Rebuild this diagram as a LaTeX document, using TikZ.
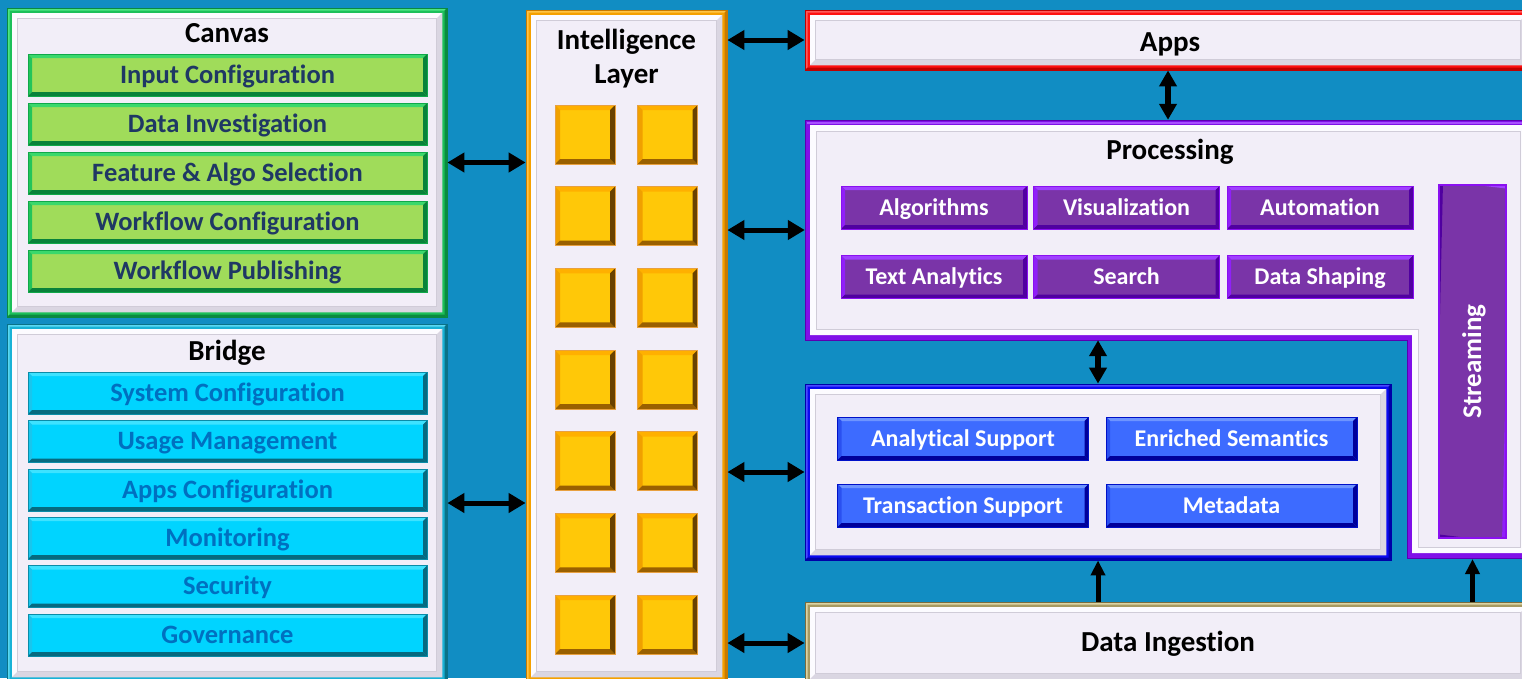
\documentclass[tikz,border=0pt]{standalone}
\usepackage{fontspec}
\setmainfont{Carlito}[Ligatures=NoCommon]
\usetikzlibrary{arrows.meta}

% page and panels
\definecolor{bg}{HTML}{118DC3}
\definecolor{panel}{HTML}{F2EEF8}
\definecolor{panelhi}{HTML}{FCFBFF}
\definecolor{panelsh}{HTML}{DAD6E2}
\definecolor{panelln}{HTML}{D0CCD8}
% canvas (green)
\definecolor{grnband}{HTML}{1CC05A}
\definecolor{grnbandhi}{HTML}{4EE684}
\definecolor{grnbanddk}{HTML}{0A8A40}
\definecolor{grnfill}{HTML}{A0DC5A}
\definecolor{grnrim}{HTML}{10A84A}
\definecolor{grnhi}{HTML}{3AD86C}
\definecolor{grnlt}{HTML}{22C45A}
\definecolor{grndk}{HTML}{08823A}
\definecolor{grntext}{HTML}{1F3864}
% bridge (cyan)
\definecolor{brband}{HTML}{18B2D6}
\definecolor{brbandhi}{HTML}{5AD8F2}
\definecolor{brbanddk}{HTML}{0A7288}
\definecolor{cyfill}{HTML}{00D4FF}
\definecolor{cyrim}{HTML}{0A8CA8}
\definecolor{cyhi}{HTML}{3EE2FF}
\definecolor{cylt}{HTML}{18C6EE}
\definecolor{cydk}{HTML}{066A80}
\definecolor{cytext}{HTML}{0070C0}
% intelligence layer (orange / gold)
\definecolor{orband}{HTML}{F5A000}
\definecolor{orbandhi}{HTML}{FFC446}
\definecolor{orbanddk}{HTML}{C87A00}
\definecolor{sqfill}{HTML}{FFC808}
\definecolor{sqedge}{HTML}{E8A040}
\definecolor{sqtop}{HTML}{FFB000}
\definecolor{sqleft}{HTML}{F0A000}
\definecolor{sqbot}{HTML}{9A6000}
\definecolor{sqright}{HTML}{6A4200}
% apps (red)
\definecolor{rdband}{HTML}{FF1010}
\definecolor{rdbandhi}{HTML}{FF5A5A}
\definecolor{rdbanddk}{HTML}{C00000}
% processing (violet)
\definecolor{vioband}{HTML}{8010E8}
\definecolor{viobandhi}{HTML}{A850FF}
\definecolor{viobanddk}{HTML}{5A00B0}
\definecolor{pufill}{HTML}{7A34A8}
\definecolor{purim}{HTML}{8A10F0}
\definecolor{puhi}{HTML}{A040FF}
\definecolor{pult}{HTML}{9020F8}
\definecolor{pudk}{HTML}{5000A0}
% storage (blue)
\definecolor{blband}{HTML}{0A0AF0}
\definecolor{blbandhi}{HTML}{4A4AFF}
\definecolor{blbanddk}{HTML}{0000A8}
\definecolor{blfill}{HTML}{3D6BFF}
\definecolor{blrim}{HTML}{0010C8}
\definecolor{blhi}{HTML}{6E94FF}
\definecolor{bllt}{HTML}{2A50F0}
\definecolor{bldk}{HTML}{00009A}
% data ingestion (khaki)
\definecolor{khband}{HTML}{A89A62}
\definecolor{khbandhi}{HTML}{DCD4A4}
\definecolor{khbanddk}{HTML}{7A6C3E}

\newcommand\titlefont{\fontsize{29}{31}\selectfont\bfseries}
\newcommand\leftbarfont{\fontsize{26.5}{28}\selectfont\bfseries}
\newcommand\rightbarfont{\fontsize{24}{26}\selectfont\bfseries}
\newcommand\streamfont{\fontsize{27}{29}\selectfont\bfseries}

% inner lavender panel of a container node
\newcommand\panelin[1]{%
  \fill[panelhi] ([xshift=5pt,yshift=-5pt]#1.north west) rectangle ([xshift=-5pt,yshift=5pt]#1.south east);
  \fill[panelsh] ([xshift=-5pt,yshift=5pt]#1.south east) -- ([xshift=5pt,yshift=5pt]#1.south west)
     -- ([xshift=11pt,yshift=11pt]#1.south west) -- ([xshift=-11pt,yshift=11pt]#1.south east)
     -- ([xshift=-11pt,yshift=-11pt]#1.north east) -- ([xshift=-5pt,yshift=-5pt]#1.north east) -- cycle;
  \filldraw[fill=panel, draw=panelln, line width=1pt] ([xshift=11pt,yshift=-11pt]#1.north west) rectangle ([xshift=-11pt,yshift=11pt]#1.south east);
}

% outline of the L-shaped processing block, inset by #1
\newcommand\procoutline[1]{({805+#1},{120+#1}) -- ({1531-#1},{120+#1}) -- ({1531-#1},{558-#1})
  -- ({1407+#1},{558-#1}) -- ({1407+#1},{340-#1}) -- ({805+#1},{340-#1}) -- cycle}

\tikzset{
  bevel/.style n args={5}{path picture={
    \fill[#1] (path picture bounding box.north west) -- (path picture bounding box.north east)
      -- ([xshift=-#5,yshift=-#5]path picture bounding box.north east)
      -- ([xshift=#5,yshift=-#5]path picture bounding box.north west) -- cycle;
    \fill[#2] (path picture bounding box.north west) -- (path picture bounding box.south west)
      -- ([xshift=#5,yshift=#5]path picture bounding box.south west)
      -- ([xshift=#5,yshift=-#5]path picture bounding box.north west) -- cycle;
    \fill[#3] (path picture bounding box.south west) -- (path picture bounding box.south east)
      -- ([xshift=-#5,yshift=#5]path picture bounding box.south east)
      -- ([xshift=#5,yshift=#5]path picture bounding box.south west) -- cycle;
    \fill[#4] (path picture bounding box.north east) -- (path picture bounding box.south east)
      -- ([xshift=-#5,yshift=#5]path picture bounding box.south east)
      -- ([xshift=-#5,yshift=-#5]path picture bounding box.north east) -- cycle;
  }},
  container/.style n args={3}{draw=#3, line width=0.8pt, fill=#1,
    bevel={#2}{#2}{#3}{#3}{2.5pt}, inner sep=0pt},
  lbl/.style={inner sep=0pt, text depth=0pt},
  title/.style={lbl, font=\titlefont, text height=18.3pt, text=black},
  leftbar/.style={lbl, font=\leftbarfont, text height=16.7pt,
    minimum width=399pt, minimum height=42pt, line width=1pt},
  rightbar/.style={lbl, font=\rightbarfont, text height=15.1pt,
    minimum height=43pt, line width=1pt, text=white},
  gbar/.style={leftbar, draw=grnrim, fill=grnfill,
    bevel={grnhi}{grnlt}{grndk}{grndk}{4pt}, text=grntext},
  cbar/.style={leftbar, draw=cyrim, fill=cyfill,
    bevel={cyhi}{cylt}{cydk}{cydk}{4pt}, text=cytext},
  pbar/.style={rightbar, draw=purim, fill=pufill,
    bevel={puhi}{pult}{pudk}{pudk}{4pt}, minimum width=186pt},
  bbar/.style={rightbar, draw=blrim, fill=blfill,
    bevel={blhi}{bllt}{bldk}{bldk}{4pt}, minimum width=251pt},
  sq/.style={draw=sqedge, line width=0.6pt, fill=sqfill,
    bevel={sqtop}{sqleft}{sqbot}{sqright}{5pt},
    minimum width=60pt, minimum height=59pt, inner sep=0pt},
  harr/.style={line width=5pt, {Triangle[length=17pt,width=19pt]}-{Triangle[length=17pt,width=19pt]}},
  varr/.style={line width=6pt, {Triangle[length=16pt,width=17pt]}-{Triangle[length=16pt,width=17pt]}},
  uarr/.style={line width=5pt, -{Triangle[length=15pt,width=14pt]}},
}

\begin{document}
\begin{tikzpicture}[x=1pt,y=-1pt]
\useasboundingbox (0,0) rectangle (1522,678);
\fill[bg] (0,0) rectangle (1522,678);

% ---------------- Canvas ----------------
\node[container={grnband}{grnbandhi}{grnbanddk}, minimum width=440pt, minimum height=309pt] (canvas) at (227,162.5) {};
\panelin{canvas}
\node[title] (canvas-title) at (227,33) {Canvas};
\node[gbar] (c1) at (227.5,75)  {Input Configuration};
\node[gbar] (c2) at (227.5,124) {Data Investigation};
\node[gbar] (c3) at (227.5,173) {Feature \& Algo Selection};
\node[gbar] (c4) at (227.5,222) {Workflow Configuration};
\node[gbar] (c5) at (227.5,271) {Workflow Publishing};

% ---------------- Bridge ----------------
\node[container={brband}{brbandhi}{brbanddk}, minimum width=440pt, minimum height=358pt] (bridge) at (227,503) {};
\panelin{bridge}
\node[title] (bridge-title) at (227,351) {Bridge};
\node[cbar] (b1) at (227.5,393)   {System Configuration};
\node[cbar] (b2) at (227.5,441.5) {Usage Management};
\node[cbar] (b3) at (227.5,490)   {Apps Configuration};
\node[cbar] (b4) at (227.5,538)   {Monitoring};
\node[cbar] (b5) at (227.5,586.5) {Security};
\node[cbar] (b6) at (227.5,635)   {Governance};

% ---------------- Intelligence layer ----------------
\node[container={orband}{orbandhi}{orbanddk}, minimum width=201pt, minimum height=672pt] (intel) at (626.5,346) {};
\panelin{intel}
\node[title] (intel-title1) at (626.5,40) {Intelligence};
\node[title] (intel-title2) at (626.5,74) {Layer};
\foreach \r in {0,...,6} {
  \node[sq] (sqL\r) at (585,{134.5+81.67*\r}) {};
  \node[sq] (sqR\r) at (667.5,{134.5+81.67*\r}) {};
}

% ---------------- Apps ----------------
\node[container={rdband}{rdbandhi}{rdbanddk}, minimum width=726pt, minimum height=60pt] (apps) at (1168,40) {};
\panelin{apps}
\node[title] (apps-title) at (1170,42) {Apps};

% ---------------- Processing (L-shaped) ----------------
\node[inner sep=0pt, minimum width=726pt, minimum height=220pt] (proc) at (1168,230) {};
\filldraw[fill=vioband, draw=viobanddk, line width=0.8pt] \procoutline{0};
\draw[viobandhi, line width=2pt] (807,122.5) -- (1531,122.5);
\fill[panelhi] \procoutline{5};
\filldraw[fill=panel, draw=panelln, line width=1pt] \procoutline{11};
\node[title] (proc-title) at (1170,150) {Processing};
\node[pbar] (p1) at (934,207.5)  {Algorithms};
\node[pbar] (p2) at (1126.5,207.5) {Visualization};
\node[pbar] (p3) at (1320,207.5) {Automation};
\node[pbar] (p4) at (934,277)    {Text Analytics};
\node[pbar] (p5) at (1126.5,277) {Search};
\node[pbar] (p6) at (1320,277)   {Data Shaping};
\node[lbl, draw=purim, line width=1.5pt, fill=pufill,
      bevel={puhi}{pudk}{pudk}{pult}{4pt},
      minimum width=353pt, minimum height=67pt, rotate=90,
      text=white, font=\streamfont, text height=17pt] (stream) at (1472.5,361.5) {Streaming};
\coordinate (procleg) at (1472.5,559);

% ---------------- Storage ----------------
\node[container={blband}{blbandhi}{blbanddk}, minimum width=586pt, minimum height=176pt] (store) at (1098,472) {};
\panelin{store}
\node[bbar] (s1) at (963,438.5)    {Analytical Support};
\node[bbar] (s2) at (1231.5,438.5) {Enriched Semantics};
\node[bbar] (s3) at (963,505.5)    {Transaction Support};
\node[bbar] (s4) at (1231.5,505.5) {Metadata};

% ---------------- Data ingestion ----------------
\node[container={khband}{khbandhi}{khbanddk}, minimum width=726pt, minimum height=82pt] (ingest) at (1168,643) {};
\panelin{ingest}
\node[title] (ingest-title) at (1168,642) {Data Ingestion};

% ---------------- Connectors ----------------
\draw[harr] (canvas.east) -- (canvas.east -| intel.west);
\draw[harr] (bridge.east) -- (bridge.east -| intel.west);
\draw[harr] (apps.west -| intel.east) -- (apps.west);
\draw[harr] (proc.west -| intel.east) -- (proc.west);
\draw[harr] (store.west -| intel.east) -- (store.west);
\draw[harr] (ingest.west -| intel.east) -- (ingest.west);
\draw[varr] (apps.south) -- (proc.north);
\draw[varr] (store.north) -- (store.north |- proc.south);
\draw[uarr] (store.south |- ingest.north) -- (store.south);
\draw[uarr] (ingest.north -| procleg) -- (procleg);
\end{tikzpicture}
\end{document}
